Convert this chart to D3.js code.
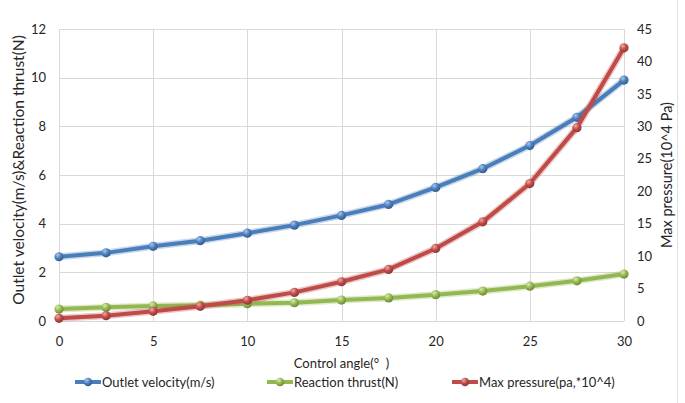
<!DOCTYPE html>
<html><head><meta charset="utf-8">
<script src="https://cdn.jsdelivr.net/npm/d3@7"></script>
<style>body{margin:0;background:#fff}svg{display:block}text{font-family:Lato,"Open Sans",sans-serif;fill:#262626}</style>
</head><body><svg id="c" width="685" height="403"></svg>
<script>
const angles = [0,2.5,5,7.5,10,12.5,15,17.5,20,22.5,25,27.5,30];
const velocity = [2.64,2.80,3.07,3.30,3.61,3.94,4.34,4.79,5.49,6.26,7.21,8.37,9.90];
const thrust = [0.49,0.56,0.62,0.65,0.71,0.75,0.86,0.95,1.08,1.23,1.43,1.65,1.93];
const pressure = [0.41,0.82,1.49,2.26,3.20,4.41,6.05,7.95,11.18,15.28,21.18,29.80,42.10];
const xTicks = [0,5,10,15,20,25,30];
const yLeftTicks = [0,2,4,6,8,10,12];
const yRightTicks = [0,5,10,15,20,25,30,35,40,45];
const seriesNames = ["Outlet velocity(m/s)","Reaction thrust(N)","Max pressure(pa,*10^4)"];
const colors = ["#4a7ebb","#93b851","#be4b48"];
const lights = ["#a9c6ee","#d6ecaa","#f0a9a6"];

const svg = d3.select("#c");
const x = d3.scaleLinear().domain([0,30]).range([59,624]);
const yL = d3.scaleLinear().domain([0,12]).range([321,29]);
const yR = d3.scaleLinear().domain([0,45]).range([321,29]);

// outer border
svg.append("line").attr("x1",677.5).attr("x2",677.5).attr("y1",0).attr("y2",403).attr("stroke","#e0e0e0");

// gradients
const defs = svg.append("defs");
colors.forEach((c,i)=>{
  const g = defs.append("radialGradient").attr("id","g"+i).attr("cx","35%").attr("cy","30%").attr("r","70%");
  g.append("stop").attr("offset","0%").attr("stop-color",lights[i]);
  g.append("stop").attr("offset","55%").attr("stop-color",c);
  g.append("stop").attr("offset","100%").attr("stop-color",d3.color(c).darker(0.8));
});

// grid
const grid = svg.append("g").attr("stroke","#d9d9d9").attr("stroke-width",1);
yLeftTicks.forEach(t=>grid.append("line").attr("x1",59).attr("x2",624).attr("y1",Math.round(yL(t))+0.5).attr("y2",Math.round(yL(t))+0.5));
xTicks.forEach(t=>grid.append("line").attr("y1",29).attr("y2",321).attr("x1",Math.round(x(t))+0.5).attr("x2",Math.round(x(t))+0.5));

// axes
const axL = d3.axisLeft(yL).tickValues(yLeftTicks).tickSize(0).tickPadding(13);
const gL = svg.append("g").attr("transform","translate(59,0)").call(axL);
gL.select(".domain").remove();
gL.selectAll("text").attr("font-size",13).style("font-family","Lato");
const axR = d3.axisRight(yR).tickValues(yRightTicks).tickSize(0).tickPadding(13);
const gR = svg.append("g").attr("transform","translate(624,0)").call(axR);
gR.select(".domain").remove();
gR.selectAll("text").attr("font-size",13);
const axB = d3.axisBottom(x).tickValues(xTicks).tickSize(0).tickPadding(16);
const gB = svg.append("g").attr("transform","translate(0,321)").call(axB);
gB.select(".domain").remove();
gB.selectAll("text").attr("font-size",13);
svg.selectAll(".tick text").attr("fill","#262626").style("font-family","Lato,'Open Sans',sans-serif");

// titles
svg.append("text").attr("transform","translate(24,170) rotate(-90)").attr("text-anchor","middle").attr("font-size",15.5).text("Outlet velocity(m/s)&Reaction thrust(N)");
svg.append("text").attr("transform","translate(672,175) rotate(-90)").attr("text-anchor","middle").attr("font-size",14.5).text("Max pressure(10^4 Pa)");
svg.append("text").attr("x",341.5).attr("y",367.5).attr("text-anchor","middle").attr("font-size",13).text("Control angle(°\u00a0\u00a0)");

// series
const data = [velocity,thrust,pressure];
const scales = [yL,yL,yR];
data.forEach((vals,i)=>{
  const pts = angles.map((a,j)=>[x(a),scales[i](vals[j])]);
  const line = d3.line();
  svg.append("path").attr("d",line(pts)).attr("fill","none").attr("stroke",colors[i]).attr("stroke-opacity",0.3).attr("stroke-width",7).attr("stroke-linejoin","round");
  svg.append("path").attr("d",line(pts)).attr("fill","none").attr("stroke",colors[i]).attr("stroke-width",4).attr("stroke-linejoin","round");
  svg.append("g").selectAll("circle").data(pts).join("circle")
    .attr("cx",d=>d[0]).attr("cy",d=>d[1]).attr("r",4.6).attr("fill","url(#g"+i+")");
});

// legend
const legX = [75,267,452];
const leg = svg.append("g");
seriesNames.forEach((n,i)=>{
  const lx = legX[i], ly = 382;
  leg.append("line").attr("x1",lx).attr("x2",lx+26).attr("y1",ly).attr("y2",ly).attr("stroke",colors[i]).attr("stroke-width",4);
  leg.append("circle").attr("cx",lx+13).attr("cy",ly).attr("r",4.3).attr("fill","url(#g"+i+")");
  leg.append("text").attr("x",lx+27).attr("y",ly).attr("dy","0.35em").attr("font-size",13).text(n);
});
</script></body></html>
